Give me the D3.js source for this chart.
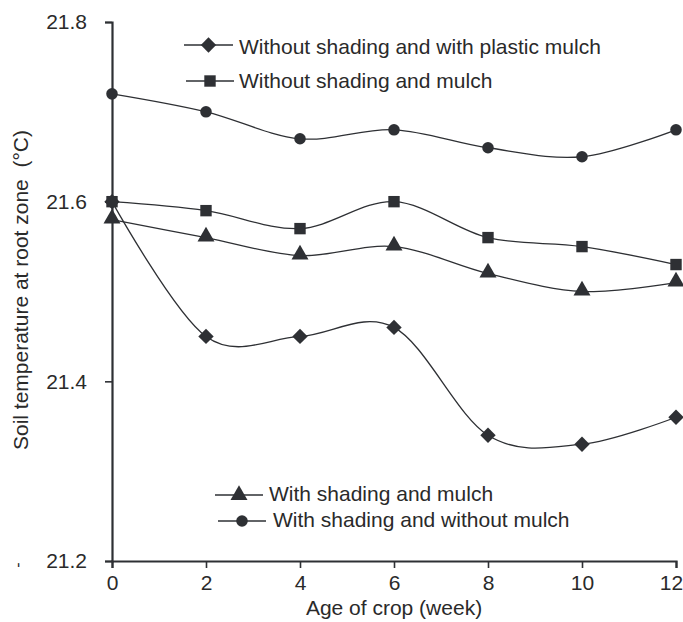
<!DOCTYPE html>
<html>
<head>
<meta charset="utf-8">
<script src="https://cdn.jsdelivr.net/npm/d3@7/dist/d3.min.js"></script>
<style>
  html, body { margin: 0; padding: 0; background: #ffffff; }
  svg { display: block; font-family: "Liberation Sans", Arial, sans-serif; }
</style>
</head>
<body>
<svg id="chart" width="683" height="622"></svg>
<script>
// Weeks after planting
const weeks = [0, 2, 4, 6, 8, 10, 12];

// Soil temperature at root zone (°C) per treatment
const plasticMulchNoShade = [21.60, 21.45, 21.45, 21.46, 21.34, 21.33, 21.36];
const noShadeNoMulch      = [21.60, 21.59, 21.57, 21.60, 21.56, 21.55, 21.53];
const shadeAndMulch       = [21.58, 21.56, 21.54, 21.55, 21.52, 21.50, 21.51];
const shadeNoMulch        = [21.72, 21.70, 21.67, 21.68, 21.66, 21.65, 21.68];

const seriesNames = [
  "Without shading and with plastic mulch",
  "Without shading and mulch",
  "With shading and mulch",
  "With shading and without mulch"
];

const xTicks = [0, 2, 4, 6, 8, 10, 12];
const yTicks = [21.2, 21.4, 21.6, 21.8];

const ink = "#2e3034";
const textInk = "#2a2a2a";

const svg = d3.select("#chart");

const x = d3.scaleLinear().domain([0, 12]).range([112, 676]);
const y = d3.scaleLinear().domain([21.2, 21.8]).range([561, 22]);

// Axes
const yAxis = g => g
  .attr("transform", `translate(${x(0)},0)`)
  .call(d3.axisLeft(y).tickValues(yTicks).tickFormat(d3.format(".1f")).tickSize(7).tickPadding(18))
  .call(a => a.select(".domain").attr("stroke", ink).attr("stroke-width", 2.2))
  .call(a => a.selectAll(".tick line").attr("stroke", ink).attr("stroke-width", 1.6))
  .call(a => a.selectAll(".tick text").attr("fill", textInk).style("font-size", "21px")
    .style("font-family", "'Liberation Sans', Arial, sans-serif"));

const xAxis = g => g
  .attr("transform", `translate(0,${y(21.2)})`)
  .call(d3.axisBottom(x).tickValues(xTicks).tickFormat(d3.format("d")).tickSize(7).tickPadding(7))
  .call(a => a.select(".domain").attr("stroke", ink).attr("stroke-width", 2.2))
  .call(a => a.selectAll(".tick line").attr("stroke", ink).attr("stroke-width", 1.6))
  .call(a => a.selectAll(".tick text").attr("fill", textInk).style("font-size", "21px")
    .style("font-family", "'Liberation Sans', Arial, sans-serif"))
  // keep the last label inside the page edge
  .call(a => a.selectAll(".tick text").filter(d => d === 12).attr("dx", "-5"));

svg.append("g").call(xAxis);
svg.append("g").call(yAxis);

// Axis titles
svg.append("text")
  .attr("x", (x(0) + x(12)) / 2)
  .attr("y", 615)
  .attr("text-anchor", "middle")
  .attr("fill", textInk)
  .style("font-size", "21px")
  .text("Age of crop (week)");

svg.append("text")
  .attr("transform", "translate(28,290) rotate(-90)")
  .attr("text-anchor", "middle")
  .attr("fill", textInk)
  .style("font-size", "21px")
  .style("white-space", "pre")
  .text("Soil temperature at root zone  (°C)");

svg.append("text")
  .attr("transform", "translate(23,565) rotate(-90)")
  .attr("text-anchor", "middle")
  .attr("fill", textInk)
  .style("font-size", "16px")
  .text("-");

// Marker shapes
const symbolFor = {
  diamond: d3.symbol().type(d3.symbolDiamond2).size(150),
  square: d3.symbol().type(d3.symbolSquare).size(130),
  triangle: d3.symbol().type(d3.symbolTriangle).size(125),
  circle: d3.symbol().type(d3.symbolCircle).size(105)
};

const series = [
  { name: seriesNames[0], values: plasticMulchNoShade, shape: "diamond" },
  { name: seriesNames[1], values: noShadeNoMulch, shape: "square" },
  { name: seriesNames[2], values: shadeAndMulch, shape: "triangle" },
  { name: seriesNames[3], values: shadeNoMulch, shape: "circle" }
];

const line = d3.line()
  .x(d => x(d[0]))
  .y(d => y(d[1]))
  .curve(d3.curveCatmullRom.alpha(0));

const plot = svg.append("g");

series.forEach(s => {
  const pts = weeks.map((w, i) => [w, s.values[i]]);
  plot.append("path")
    .attr("d", line(pts))
    .attr("fill", "none")
    .attr("stroke", ink)
    .attr("stroke-width", 1.3);
});

series.forEach(s => {
  const pts = weeks.map((w, i) => [w, s.values[i]]);
  plot.selectAll(null)
    .data(pts)
    .join("path")
    .attr("transform", d => {
      const dy = s.shape === "triangle" ? -1 : 0;
      return `translate(${x(d[0])},${y(d[1]) + dy})`;
    })
    .attr("d", symbolFor[s.shape]())
    .attr("fill", ink);
});

// Legends
const legendRows = [
  { s: series[0], x1: 184, x2: 233, my: 45, tx: 239, ty: 54 },
  { s: series[1], x1: 186, x2: 234, my: 81, tx: 239, ty: 88 },
  { s: series[2], x1: 215, x2: 263, my: 495, tx: 269, ty: 501 },
  { s: series[3], x1: 218, x2: 266, my: 521, tx: 273, ty: 527 }
];

const legend = svg.append("g");
legendRows.forEach(r => {
  legend.append("line")
    .attr("x1", r.x1).attr("x2", r.x2)
    .attr("y1", r.my).attr("y2", r.my)
    .attr("stroke", ink).attr("stroke-width", 1.3);
  legend.append("path")
    .attr("transform", `translate(${(r.x1 + r.x2) / 2},${r.my})`)
    .attr("d", symbolFor[r.s.shape]())
    .attr("fill", ink);
  legend.append("text")
    .attr("x", r.tx).attr("y", r.ty)
    .attr("fill", textInk)
    .style("font-size", "21px")
    .text(r.s.name);
});
</script>
</body>
</html>
